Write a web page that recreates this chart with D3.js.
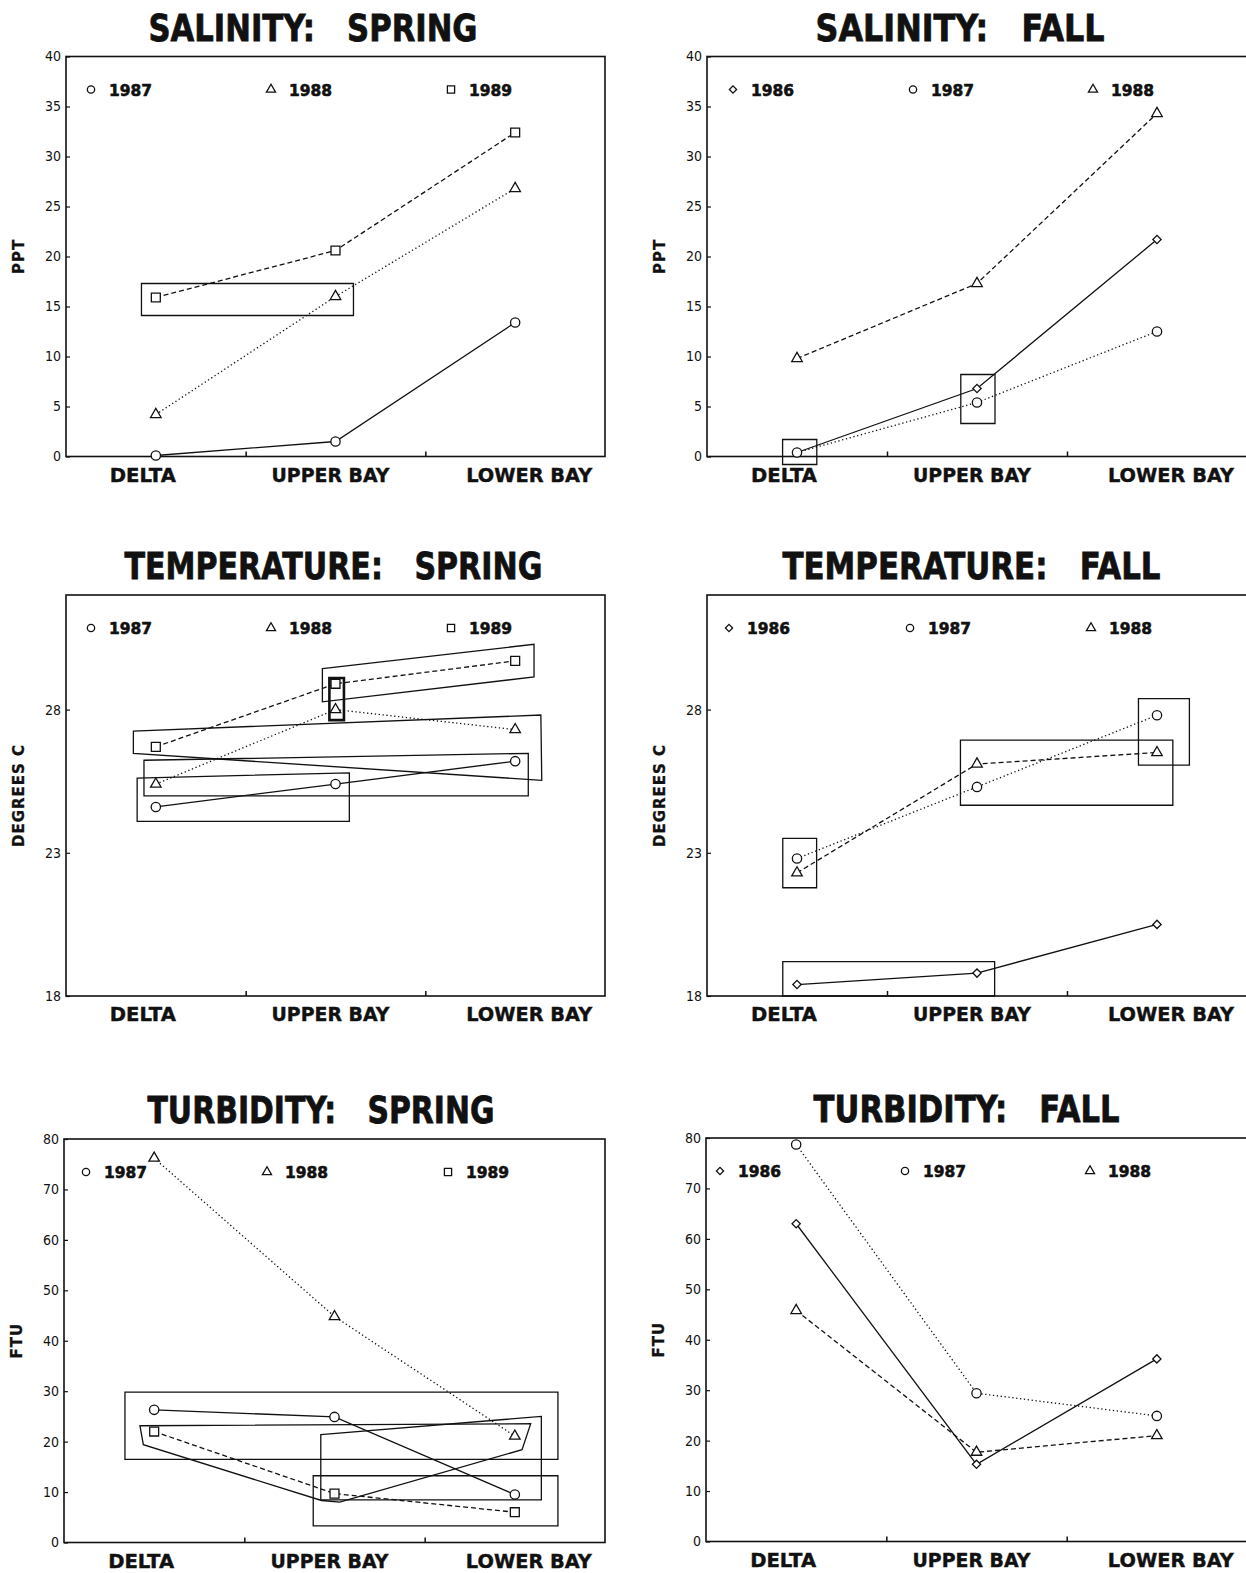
<!DOCTYPE html>
<html>
<head>
<meta charset="utf-8">
<script src="https://cdn.jsdelivr.net/npm/d3@7"></script>
<style>
  body { margin: 0; background: #fff; }
  svg { display: block; }
</style>
</head>
<body>
<svg id="fig" width="1246" height="1573"></svg>
<script>
// categories and years
const categories = ["DELTA", "UPPER BAY", "LOWER BAY"];
const springYears = ["1987", "1988", "1989"];
const fallYears = ["1986", "1987", "1988"];

// salinity (ppt)
const salinitySpring1987 = [0.1, 1.5, 13.4];
const salinitySpring1988 = [4.2, 16.0, 26.8];
const salinitySpring1989 = [15.9, 20.6, 32.4];
const salinityFall1986 = [0.4, 6.8, 21.7];
const salinityFall1987 = [0.4, 5.4, 12.5];
const salinityFall1988 = [9.8, 17.3, 34.3];

// temperature (degrees C)
const temperatureSpring1987 = [24.6, 25.4, 26.2];
const temperatureSpring1988 = [25.4, 28.0, 27.3];
const temperatureSpring1989 = [26.7, 28.9, 29.7];
const temperatureFall1986 = [18.4, 18.8, 20.5];
const temperatureFall1987 = [22.8, 25.3, 27.8];
const temperatureFall1988 = [22.3, 26.1, 26.5];

// turbidity (FTU)
const turbiditySpring1987 = [26.3, 24.9, 9.5];
const turbiditySpring1988 = [76.2, 44.8, 21.1];
const turbiditySpring1989 = [22.0, 9.7, 6.0];
const turbidityFall1986 = [63.0, 15.3, 36.2];
const turbidityFall1987 = [78.7, 29.4, 24.9];
const turbidityFall1988 = [45.8, 17.7, 21.0];

// tick values
const salinityTicks = [0, 5, 10, 15, 20, 25, 30, 35, 40];
const temperatureTicks = [18, 23, 28];
const turbidityTicks = [0, 10, 20, 30, 40, 50, 60, 70, 80];

// grouping boxes drawn on the figure: [category index, value] vertices
const salinitySpringBoxes = [
  [[-0.08, 17.3], [1.10, 17.3], [1.10, 14.1], [-0.08, 14.1]]
];
const salinityFallBoxes = [
  [[-0.08, 1.7], [0.11, 1.7], [0.11, -0.8], [-0.08, -0.8]],
  [[0.91, 8.2], [1.10, 8.2], [1.10, 3.3], [0.91, 3.3]]
];
const temperatureSpringBoxes = [
  [[0.927, 29.43], [2.105, 30.28], [2.105, 29.14], [0.927, 28.27]],
  [[0.966, 29.1], [1.047, 29.1], [1.047, 27.63], [0.966, 27.63]],
  [[-0.125, 27.25], [2.143, 27.81], [2.148, 25.53], [-0.125, 26.47]],
  [[-0.066, 26.23], [2.073, 26.47], [2.073, 24.99], [-0.066, 24.99]],
  [[-0.104, 25.61], [1.077, 25.79], [1.077, 24.1], [-0.104, 24.1]]
];
const temperatureFallBoxes = [
  [[-0.079, 23.5], [0.109, 23.5], [0.109, 21.78], [-0.079, 21.78]],
  [[0.908, 26.93], [2.088, 26.93], [2.088, 24.66], [0.908, 24.66]],
  [[1.897, 28.38], [2.18, 28.38], [2.18, 26.06], [1.897, 26.06]],
  [[-0.079, 19.2], [1.098, 19.2], [1.098, 18.0], [-0.079, 18.0]]
];
const turbiditySpringBoxes = [
  [[-0.162, 29.8], [2.239, 29.8], [2.239, 16.5], [-0.162, 16.5]],
  [[-0.079, 23.15], [2.088, 23.55], [2.04, 18.4], [1.029, 8.0], [0.928, 8.33], [-0.06, 19.39]],
  [[0.924, 21.37], [2.147, 25.0], [2.147, 8.47], [0.924, 8.47]],
  [[0.882, 13.23], [2.239, 13.23], [2.239, 3.31], [0.882, 3.31]]
];

// line / marker style per year slot
const springStyle = [
  { shape: "circle", dash: null },
  { shape: "triangle", dash: "1.3,2.6" },
  { shape: "square", dash: "5,3" }
];
const fallStyle = [
  { shape: "diamond", dash: null },
  { shape: "circle", dash: "1.3,2.6" },
  { shape: "triangle", dash: "5,3" }
];

const panels = [
  { title: "SALINITY:   SPRING", yLabel: "PPT", domain: [0, 40], ticks: salinityTicks,
    years: springYears, style: springStyle, boxes: salinitySpringBoxes,
    series: [salinitySpring1987, salinitySpring1988, salinitySpring1989] },
  { title: "SALINITY:   FALL", yLabel: "PPT", domain: [0, 40], ticks: salinityTicks,
    years: fallYears, style: fallStyle, boxes: salinityFallBoxes,
    series: [salinityFall1986, salinityFall1987, salinityFall1988] },
  { title: "TEMPERATURE:   SPRING", yLabel: "DEGREES C", domain: [18, 32], ticks: temperatureTicks,
    years: springYears, style: springStyle, boxes: temperatureSpringBoxes, thickBox: 1,
    series: [temperatureSpring1987, temperatureSpring1988, temperatureSpring1989] },
  { title: "TEMPERATURE:   FALL", yLabel: "DEGREES C", domain: [18, 32], ticks: temperatureTicks,
    years: fallYears, style: fallStyle, boxes: temperatureFallBoxes,
    series: [temperatureFall1986, temperatureFall1987, temperatureFall1988] },
  { title: "TURBIDITY:   SPRING", yLabel: "FTU", domain: [0, 80], ticks: turbidityTicks,
    years: springYears, style: springStyle, boxes: turbiditySpringBoxes,
    series: [turbiditySpring1987, turbiditySpring1988, turbiditySpring1989] },
  { title: "TURBIDITY:   FALL", yLabel: "FTU", domain: [0, 80], ticks: turbidityTicks,
    years: fallYears, style: fallStyle, boxes: [],
    series: [turbidityFall1986, turbidityFall1987, turbidityFall1988] }
];

// page positions of each panel
const layout = [
  { left: 66, right: 605, top: 56.5, bottom: 456.5, titleX: 148.5, titleW: 329, legX: 25, legStep: 180 },
  { left: 707, right: 1247, top: 56.5, bottom: 456.5, titleX: 815.6, titleW: 289, legX: 26, legStep: 180 },
  { left: 66, right: 605, top: 595, bottom: 996, titleX: 124.4, titleW: 418, legX: 25, legStep: 180 },
  { left: 707, right: 1247, top: 595, bottom: 996, titleX: 782.5, titleW: 378, legX: 22, legStep: 181 },
  { left: 64, right: 605, top: 1139, bottom: 1542.5, titleX: 147.5, titleW: 347, legX: 22, legStep: 181 },
  { left: 706, right: 1247, top: 1138, bottom: 1541.5, titleX: 813.6, titleW: 306, legX: 14, legStep: 185 }
];
const catNudge = [-13, -5, 14];
const catWidth = [66, 118, 126];

const svg = d3.select("#fig");
const boldFont = "'DejaVu Sans', 'Liberation Sans', sans-serif";
const tickFont = "'Liberation Sans Narrow', 'DejaVu Sans Condensed', 'Liberation Sans', sans-serif";

function symbolPath(shape, big) {
  const sizes = big
    ? { circle: 68, triangle: 48, square: 80, diamond: 34 }
    : { circle: 42, triangle: 36, square: 52, diamond: 26 };
  const type = shape === "circle" ? d3.symbolCircle
    : shape === "triangle" ? d3.symbolTriangle
    : d3.symbolSquare;
  return d3.symbol().type(type).size(sizes[shape])();
}

function drawMarker(g, shape, cx, cy, big) {
  const rot = shape === "diamond" ? " rotate(45)" : "";
  g.append("path")
    .attr("d", symbolPath(shape, big))
    .attr("transform", `translate(${cx},${cy})${rot}`)
    .attr("fill", "#fff")
    .attr("stroke", "#111")
    .attr("stroke-width", 1.3);
}

panels.forEach((p, k) => {
  const L = layout[k];
  const g = svg.append("g");

  const x = d3.scaleLinear().domain([-0.5, 2.5]).range([L.left, L.right]);
  const y = d3.scaleLinear().domain(p.domain).range([L.bottom, L.top]);

  // title
  g.append("text")
    .attr("x", L.titleX)
    .attr("y", L.top - 16)
    .attr("textLength", L.titleW)
    .attr("lengthAdjust", "spacingAndGlyphs")
    .style("white-space", "pre")
    .attr("font-family", boldFont)
    .attr("font-weight", "bold")
    .attr("font-size", 37)
    .attr("fill", "#111")
    .attr("stroke", "#111")
    .attr("stroke-width", 0.8)
    .text(p.title);

  // y axis
  const yAxis = d3.axisLeft(y).tickValues(p.ticks).tickSize(-4).tickPadding(5);
  const ya = g.append("g").attr("transform", `translate(${L.left},0)`).call(yAxis);
  ya.select(".domain").remove();
  ya.selectAll(".tick line").attr("stroke", "#111").attr("stroke-width", 1.2);
  ya.selectAll(".tick text")
    .attr("font-family", tickFont)
    .attr("font-size", 14)
    .attr("fill", "#111");

  // x axis: only the two division ticks, labels drawn separately
  const xAxis = d3.axisBottom(x).tickValues([0.5, 1.5]).tickSize(-5).tickFormat("");
  const xa = g.append("g").attr("transform", `translate(0,${L.bottom})`).call(xAxis);
  xa.select(".domain").remove();
  xa.selectAll(".tick line").attr("stroke", "#111").attr("stroke-width", 1.5);

  g.selectAll("text.cat")
    .data(categories)
    .enter().append("text")
    .attr("class", "cat")
    .attr("x", (d, i) => x(i) + catNudge[i] - catWidth[i] / 2)
    .attr("y", L.bottom + 25)
    .attr("textLength", (d, i) => catWidth[i])
    .attr("lengthAdjust", "spacingAndGlyphs")
    .attr("font-family", boldFont)
    .attr("font-weight", "bold")
    .attr("font-size", 19)
    .attr("fill", "#111")
    .attr("stroke", "#111")
    .attr("stroke-width", 0.4)
    .text(d => d);

  // y axis title
  g.append("text")
    .attr("transform", `translate(${L.left - 42},${(L.top + L.bottom) / 2}) rotate(-90)`)
    .attr("text-anchor", "middle")
    .attr("font-family", boldFont)
    .attr("font-weight", "bold")
    .attr("font-size", 15)
    .attr("letter-spacing", 1)
    .attr("fill", "#111")
    .attr("stroke", "#111")
    .attr("stroke-width", 0.3)
    .text(p.yLabel);

  // plot frame
  g.append("rect")
    .attr("x", L.left)
    .attr("y", L.top)
    .attr("width", L.right - L.left)
    .attr("height", L.bottom - L.top)
    .attr("fill", "none")
    .attr("stroke", "#111")
    .attr("stroke-width", 1.6);

  // grouping boxes
  g.selectAll("path.box")
    .data(p.boxes)
    .enter().append("path")
    .attr("class", "box")
    .attr("d", d => d3.line().x(v => x(v[0])).y(v => y(v[1]))(d) + "Z")
    .attr("fill", "none")
    .attr("stroke", "#111")
    .attr("stroke-width", (d, i) => i === p.thickBox ? 2.6 : 1.3);

  // series lines
  const line = d3.line().x((d, i) => x(i)).y(d => y(d));
  p.series.forEach((s, j) => {
    g.append("path")
      .attr("d", line(s))
      .attr("fill", "none")
      .attr("stroke", "#111")
      .attr("stroke-width", 1.3)
      .attr("stroke-dasharray", p.style[j].dash);
  });
  p.series.forEach((s, j) => {
    s.forEach((v, i) => drawMarker(g, p.style[j].shape, x(i), y(v), true));
  });

  // legend
  p.years.forEach((yr, j) => {
    const lx = L.left + L.legX + j * L.legStep;
    const ly = L.top + 33;
    drawMarker(g, p.style[j].shape, lx, ly, false);
    g.append("text")
      .attr("x", lx + 18)
      .attr("y", ly + 6)
      .attr("textLength", 43)
      .attr("lengthAdjust", "spacingAndGlyphs")
      .attr("font-family", boldFont)
      .attr("font-weight", "bold")
      .attr("font-size", 16)
      .attr("fill", "#111")
      .attr("stroke", "#111")
      .attr("stroke-width", 0.6)
      .text(yr);
  });
});
</script>
</body>
</html>
